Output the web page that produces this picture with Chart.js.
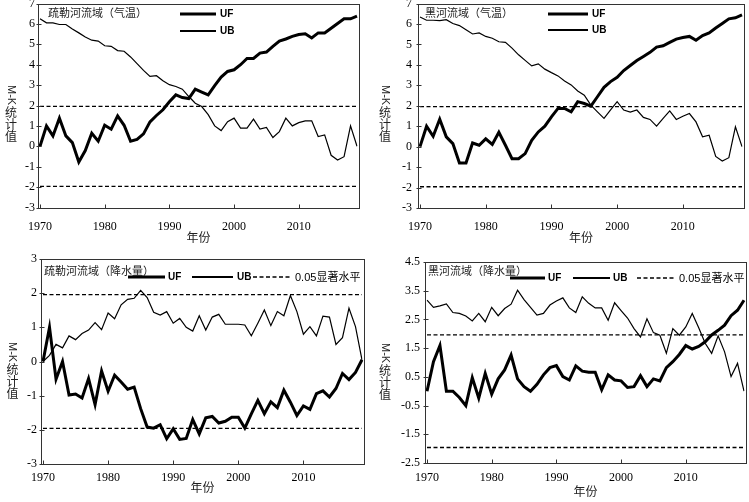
<!DOCTYPE html>
<html>
<head>
<meta charset="utf-8">
<script src="https://cdn.jsdelivr.net/npm/chart.js@4.4.1/dist/chart.umd.min.js"></script>
<style>
  html, body { margin: 0; padding: 0; background: #fff; }
  .panel { position: absolute; }
</style>
</head>
<body>
<div class="panel" style="left:0;top:0;width:375px;height:250px"><canvas id="c1"></canvas></div>
<div class="panel" style="left:375px;top:0;width:374px;height:250px"><canvas id="c2"></canvas></div>
<div class="panel" style="left:0;top:250px;width:375px;height:252px"><canvas id="c3"></canvas></div>
<div class="panel" style="left:375px;top:250px;width:374px;height:252px"><canvas id="c4"></canvas></div>
<script>
// 年份
const years = [1970, 1971, 1972, 1973, 1974, 1975, 1976, 1977, 1978, 1979,
  1980, 1981, 1982, 1983, 1984, 1985, 1986, 1987, 1988, 1989,
  1990, 1991, 1992, 1993, 1994, 1995, 1996, 1997, 1998, 1999,
  2000, 2001, 2002, 2003, 2004, 2005, 2006, 2007, 2008, 2009,
  2010, 2011, 2012, 2013, 2014, 2015, 2016, 2017, 2018, 2019];

// 疏勒河流域 气温
const slTempUF = [0, 1.0, 0.51, 1.38, 0.51, 0.18, -0.77, -0.21, 0.64, 0.25,
  1.03, 0.84, 1.49, 1.03, 0.25, 0.34, 0.61, 1.2, 1.51, 1.79,
  2.18, 2.52, 2.39, 2.34, 2.8, 2.66, 2.52, 2.97, 3.39, 3.67,
  3.75, 4.0, 4.31, 4.31, 4.57, 4.62, 4.9, 5.16, 5.26, 5.39,
  5.48, 5.52, 5.31, 5.56, 5.56, 5.79, 6.02, 6.25, 6.25, 6.38];
const slTempUB = [6.25, 6.05, 6.05, 5.97, 5.97, 5.75, 5.56, 5.36, 5.2, 5.16,
  4.93, 4.9, 4.69, 4.66, 4.38, 4.05, 3.72, 3.43, 3.46, 3.21,
  3.02, 2.93, 2.8, 2.44, 2.11, 1.95, 1.55, 1.0, 0.77, 1.21,
  1.38, 0.89, 0.89, 1.33, 0.84, 0.93, 0.43, 0.72, 1.38, 1.0,
  1.16, 1.25, 1.25, 0.48, 0.56, -0.44, -0.67, -0.51, 1.0, 0];

// 黑河流域 气温
const hhTempUF = [0, 1.0, 0.51, 1.34, 0.48, 0.15, -0.8, -0.8, 0.18, 0.07,
  0.38, 0.11, 0.7, 0.07, -0.59, -0.59, -0.34, 0.31, 0.72, 1.0,
  1.46, 1.87, 1.87, 1.7, 2.2, 2.11, 1.98, 2.44, 2.9, 3.18,
  3.39, 3.72, 3.97, 4.21, 4.41, 4.61, 4.87, 4.93, 5.1, 5.26,
  5.34, 5.39, 5.2, 5.43, 5.56, 5.8, 6.02, 6.25, 6.3, 6.44];
const hhTempUB = [6.34, 6.18, 6.18, 6.16, 6.21, 6.02, 5.92, 5.72, 5.51, 5.56,
  5.39, 5.30, 5.13, 5.10, 4.82, 4.49, 4.22, 3.95, 4.05, 3.79,
  3.62, 3.46, 3.21, 3.02, 2.72, 2.52, 2.03, 1.7, 1.38, 1.8,
  2.2, 1.79, 1.69, 1.79, 1.43, 1.33, 1.0, 1.38, 1.75, 1.33,
  1.49, 1.62, 1.21, 0.48, 0.56, -0.48, -0.7, -0.54, 0.97, 0];

// 疏勒河流域 降水量
const slPrecUF = [0, 1.0, -0.52, 0, -0.98, -0.95, -1.07, -0.5, -1.26, -0.28,
  -0.87, -0.4, -0.6, -0.81, -0.75, -1.38, -1.92, -1.95, -1.85, -2.26,
  -1.97, -2.28, -2.25, -1.7, -2.12, -1.65, -1.61, -1.8, -1.75, -1.63,
  -1.63, -1.95, -1.53, -1.14, -1.53, -1.18, -1.35, -0.84, -1.19, -1.58,
  -1.3, -1.4, -0.94, -0.86, -1.04, -0.79, -0.35, -0.53, -0.32, 0.05];
const slPrecUB = [0, 0.18, 0.5, 0.4, 0.75, 0.64, 0.82, 0.92, 1.14, 0.93,
  1.42, 1.25, 1.66, 1.82, 1.85, 2.08, 1.87, 1.44, 1.36, 1.46,
  1.12, 1.26, 1.0, 0.89, 1.34, 0.92, 1.3, 1.38, 1.09, 1.09,
  1.09, 1.07, 0.75, 1.12, 1.51, 1.05, 1.46, 1.34, 1.93, 1.46,
  0.8, 1.02, 0.75, 1.33, 1.3, 0.5, 0.7, 1.56, 1.02, 0.05];

// 黑河流域 降水量
const hhPrecUF = [0, 1.03, 1.59, 0, 0, -0.22, -0.5, 0.47, -0.24, 0.62,
  -0.1, 0.43, 0.74, 1.26, 0.43, 0.16, 0, 0.24, 0.57, 0.82,
  0.89, 0.51, 0.39, 0.88, 0.7, 0.66, 0.66, 0.05, 0.57, 0.39,
  0.36, 0.13, 0.16, 0.54, 0.16, 0.43, 0.36, 0.82, 1.03, 1.28,
  1.59, 1.47, 1.56, 1.72, 1.96, 2.12, 2.3, 2.63, 2.82, 3.17];
const hhPrecUB = [3.17, 2.92, 2.97, 3.04, 2.74, 2.71, 2.62, 2.45, 2.71, 2.42,
  2.92, 2.63, 2.88, 3.03, 3.52, 3.19, 2.92, 2.65, 2.71, 3.0,
  3.14, 3.25, 2.9, 2.74, 3.29, 3.06, 2.9, 2.9, 2.47, 3.08,
  2.81, 2.55, 2.18, 1.89, 2.52, 2.04, 1.95, 1.32, 2.18, 1.95,
  2.24, 2.71, 2.21, 1.67, 1.32, 1.93, 1.37, 0.51, 0.97, 0];

// 0.05 显著水平
const sigLevel = 1.96;

// 版面（像素位置）
const panels = [
  { id: 'c1', W: 375, H: 250, L: 40, R: 357, T: 3.5, B: 207.5, yMin: -3, yMax: 7, yPad: 5, xPad: 12, xTitlePad: 5,
    uf: slTempUF, ub: slTempUB, title: '疏勒河流域（气温）', titleX: 48, titleY: 13, vx: 11, vy: 85,
    legend: [{ ds: 0, x0: 180, x1: 216, y: 14, tx: 220 }, { ds: 1, x0: 180, x1: 216, y: 31, tx: 220, lw: 2 }] },
  { id: 'c2', W: 374, H: 250, L: 45, R: 367, T: 3.5, B: 208, yMin: -3, yMax: 7, yPad: 8, xPad: 12, xTitlePad: 5,
    uf: hhTempUF, ub: hhTempUB, title: '黑河流域（气温）', titleX: 50, titleY: 13, vx: 10, vy: 85,
    legend: [{ ds: 0, x0: 173, x1: 213, y: 14, tx: 217 }, { ds: 1, x0: 173, x1: 213, y: 30, tx: 217, lw: 2 }] },
  { id: 'c3', W: 375, H: 252, L: 43, R: 362, T: 9, B: 214, yMin: -3, yMax: 3, yPad: 6, xPad: 7, xTitlePad: 7,
    uf: slPrecUF, ub: slPrecUB, title: '疏勒河流域（降水量）', titleX: 44, titleY: 21, vx: 12.5, vy: 92,
    legend: [{ ds: 0, x0: 128, x1: 165, y: 27, tx: 168 }, { ds: 1, x0: 192, x1: 233, y: 27, tx: 237, lw: 2 },
             { ds: 2, x0: 253, x1: 291, y: 27, tx: 295 }] },
  { id: 'c4', W: 374, H: 252, L: 52, R: 369, T: 12, B: 213, yMin: -2.5, yMax: 4.5, yPad: 7, xPad: 8, xTitlePad: 3,
    uf: hhPrecUF, ub: hhPrecUB, title: '黑河流域（降水量）', titleX: 53, titleY: 21, vx: 10, vy: 93,
    legend: [{ ds: 0, x0: 135, x1: 170, y: 28, tx: 173 }, { ds: 1, x0: 198, x1: 235, y: 28, tx: 238, lw: 2 },
             { ds: 2, x0: 262, x1: 300, y: 28, tx: 304 }] }
];

const CJK = '"Noto Sans CJK SC"';

// 边框、刻度、标题、图例、纵轴标题
function makeDecor(p) {
  return {
    id: 'decor',
    afterDraw(chart) {
      const { ctx, chartArea: a, scales: { x, y } } = chart;
      const bl = Math.round(a.left - 2) + 0.5, br = Math.round(a.right + 2) + 0.5;
      const bt = Math.round(a.top) + 0.5, bb = Math.round(a.bottom) + 0.5;
      ctx.save();
      ctx.strokeStyle = '#333';
      ctx.lineWidth = 1;
      ctx.strokeRect(bl, bt, br - bl, bb - bt);
      ctx.beginPath();
      x.ticks.forEach((t, i) => {
        if (t.label) {
          const px = Math.round(x.getPixelForTick(i)) + 0.5;
          ctx.moveTo(px, bb); ctx.lineTo(px, bb - 4);
        }
      });
      y.ticks.forEach(t => {
        const py = Math.round(y.getPixelForValue(t.value)) + 0.5;
        ctx.moveTo(bl - 2, py); ctx.lineTo(bl + 3, py);
      });
      ctx.stroke();

      // 图内标题
      ctx.fillStyle = '#222';
      ctx.font = '11px ' + CJK;
      ctx.textAlign = 'left';
      ctx.textBaseline = 'middle';
      ctx.fillText(p.title, p.titleX, p.titleY);

      // 图例
      p.legend.forEach(it => {
        const ds = chart.data.datasets[it.ds];
        ctx.strokeStyle = '#000';
        ctx.lineWidth = it.lw || ds.borderWidth;
        ctx.setLineDash(ds.borderDash || []);
        ctx.beginPath();
        ctx.moveTo(it.x0, it.y); ctx.lineTo(it.x1, it.y);
        ctx.stroke();
        ctx.setLineDash([]);
        ctx.fillStyle = '#000';
        ctx.font = ds.label.length > 2 ? '11px "Liberation Sans", ' + CJK : 'bold 10px "Liberation Sans"';
        ctx.fillText(ds.label, it.tx, it.y + 0.5);
      });

      // 纵轴标题 M-K统计值（竖排）
      ctx.fillStyle = '#222';
      ctx.font = '11px "Liberation Sans"';
      const w = ctx.measureText('M-K').width;
      ctx.save();
      ctx.translate(p.vx, p.vy);
      ctx.rotate(Math.PI / 2);
      ctx.textAlign = 'left';
      ctx.textBaseline = 'middle';
      ctx.fillText('M-K', 0, 0);
      ctx.restore();
      ctx.font = '12px ' + CJK;
      ctx.textAlign = 'center';
      ctx.textBaseline = 'top';
      let yy = p.vy + w + 1;
      for (const ch of '统计值') { ctx.fillText(ch, p.vx, yy); yy += 12; }
      ctx.restore();
    }
  };
}

function makeChart(p) {
  return new Chart(document.getElementById(p.id), {
    type: 'line',
    data: {
      labels: years,
      datasets: [
        { label: 'UF', data: p.uf, borderColor: '#000', borderWidth: 3, pointRadius: 0, tension: 0 },
        { label: 'UB', data: p.ub, borderColor: '#000', borderWidth: 1.2, pointRadius: 0, tension: 0 },
        { label: '0.05显著水平', data: years.map(() => sigLevel), borderColor: '#000', borderWidth: 1.3, borderDash: [4, 2.5], pointRadius: 0 },
        { label: '-0.05', data: years.map(() => -sigLevel), borderColor: '#000', borderWidth: 1.3, borderDash: [4, 2.5], pointRadius: 0 }
      ]
    },
    options: {
      responsive: true,
      maintainAspectRatio: false,
      animation: false,
      layout: { padding: { left: 0, top: p.T, right: p.W - p.R, bottom: 0 } },
      plugins: { legend: { display: false }, tooltip: { enabled: false } },
      scales: {
        x: {
          type: 'category',
          offset: false,
          grid: { display: false, drawTicks: false },
          border: { display: false },
          ticks: {
            autoSkip: false, maxRotation: 0, minRotation: 0, padding: p.xPad, color: '#000',
            font: { family: '"Liberation Serif"', size: 12 },
            callback: (v, i) => (years[i] % 10 === 0 ? String(years[i]) : null)
          },
          title: { display: true, text: '年份', color: '#222', font: { family: CJK, size: 12 }, padding: { top: 0, bottom: p.xTitlePad } },
          afterFit: s => { s.height = p.H - p.B; s.paddingLeft = 0; s.paddingRight = 0; }
        },
        y: {
          min: p.yMin, max: p.yMax,
          grid: { display: false, drawTicks: false },
          border: { display: false },
          ticks: { stepSize: 1, padding: p.yPad, color: '#000', font: { family: '"Liberation Serif"', size: 12 } },
          afterFit: s => { s.width = p.L; s.paddingTop = 0; s.paddingBottom = 0; }
        }
      }
    },
    plugins: [makeDecor(p)]
  });
}

window.charts = panels.map(makeChart);
</script>
</body>
</html>
